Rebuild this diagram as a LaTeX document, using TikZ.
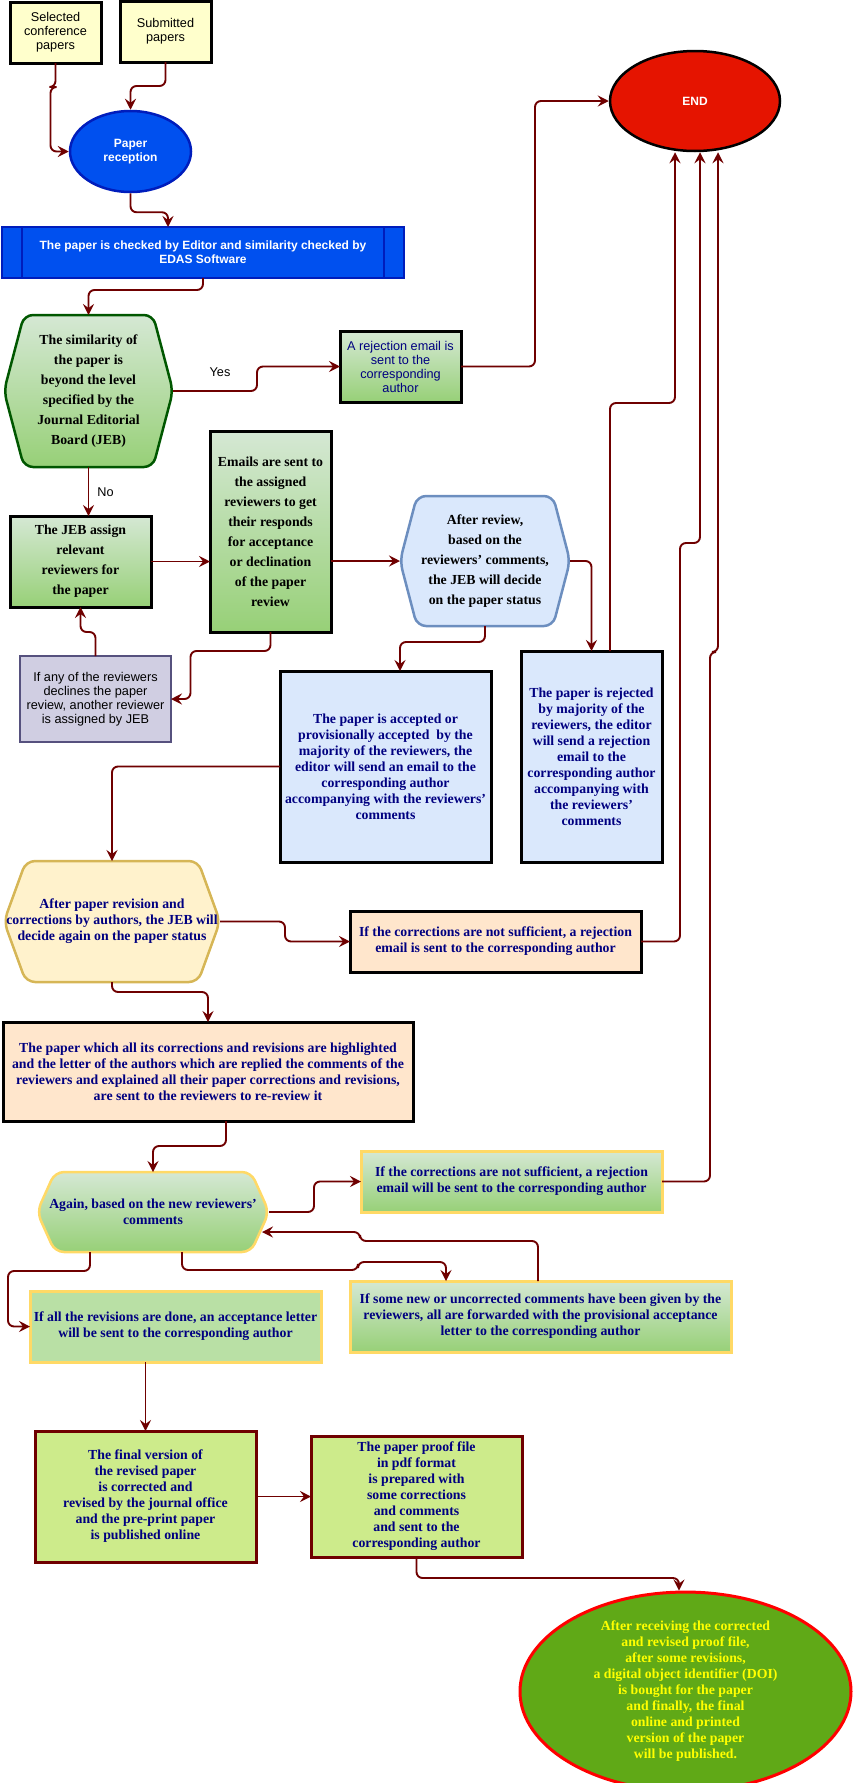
\documentclass[tikz,border=0pt]{standalone}
\usepackage{fontspec}
\setmainfont{Liberation Serif}
\setsansfont{Liberation Sans}
\usetikzlibrary{arrows.meta,shapes.geometric,backgrounds,calc}
\definecolor{edgeC}{HTML}{6F0000}
\definecolor{paleY}{HTML}{FFFFCC}
\definecolor{blueF}{HTML}{0050EF}
\definecolor{blueD}{HTML}{001DBC}
\definecolor{grTop}{HTML}{D5E8D4}
\definecolor{grBot}{HTML}{97D077}
\definecolor{dkGreen}{HTML}{005700}
\definecolor{endRed}{HTML}{E51400}
\definecolor{ltBlue}{HTML}{DAE8FC}
\definecolor{ltBlueD}{HTML}{6C8EBF}
\definecolor{purF}{HTML}{D0CEE2}
\definecolor{purD}{HTML}{56517E}
\definecolor{ltYel}{HTML}{FFF2CC}
\definecolor{ltYelD}{HTML}{D6B656}
\definecolor{peach}{HTML}{FFE6CC}
\definecolor{gold}{HTML}{FFD966}
\definecolor{accF}{HTML}{B9E0A5}
\definecolor{lime}{HTML}{CDEB8B}
\definecolor{pubG}{HTML}{60A917}
\definecolor{navyT}{HTML}{000080}
\definecolor{yelT}{HTML}{FFFF00}
\newcommand\hexshape[3]{\path[#3] (#1.north) -- ($(#1.north east)+(-#2,0)$) -- (#1.east) -- ($(#1.south east)+(-#2,0)$) -- ($(#1.south west)+(#2,0)$) -- (#1.west) -- ($(#1.north west)+(#2,0)$) -- cycle;}
\begin{document}
\begin{tikzpicture}[x=1pt,y=-1pt,
  box/.style={rectangle, align=center, inner sep=0pt, outer sep=0pt},
  ser/.style={font=\fontsize{13.8}{16}\selectfont\bfseries},
  ser20/.style={font=\fontsize{13.8}{20}\selectfont\bfseries},
  sans/.style={font=\sffamily\fontsize{12.7}{14}\selectfont},
  sansb/.style={font=\sffamily\bfseries\fontsize{12}{14}\selectfont},
  grg/.style={top color=grTop, bottom color=grBot},
  blk/.style={draw=black, line width=3pt},
  hexst/.style={rounded corners=9pt, line width=2.5pt},
  edge/.style={draw=edgeC, line width=1.9pt, rounded corners=6pt, -{Stealth[length=11pt,width=11pt,inset=4pt]}},
  lbl/.style={font=\sffamily\fontsize{12.7}{14}\selectfont, inner sep=0pt}]
\useasboundingbox (0,0) rectangle (852,1783);
% nodes
\node[box, sans, blk, fill=paleY, minimum width=91, minimum height=61] (sel) at (55.5,32.5) {Selected\\conference\\papers};
\node[box, sans, blk, fill=paleY, minimum width=91, minimum height=61] (sub) at (165.5,31.5) {Submitted\\papers};
\node[ellipse, align=center, inner sep=0pt, sansb, text=white, fill=blueF, draw=blueD, line width=2.5pt, minimum width=121, minimum height=81] (rec) at (130.5,151.5) {Paper\\reception};
\node[box, sansb, text=white, fill=blueF, draw=blueD, line width=2.5pt, minimum width=402, minimum height=51] (chk) at (203,252.5) {The paper is checked by Editor and similarity checked by\\EDAS Software};
\draw[blueD, line width=2.5pt] ([xshift=20]chk.north west) -- ([xshift=20]chk.south west) ([xshift=-20]chk.north east) -- ([xshift=-20]chk.south east);
\node[box, ser20, minimum width=169, minimum height=152] (sim) at (88.5,391) {The similarity of\\the paper is\\beyond the level\\specified by the\\Journal Editorial\\Board (JEB)};
\node[box, sans, text=navyT, blk, grg, minimum width=121, minimum height=71] (rej1) at (400.5,366.5) {A rejection email is\\sent to the\\corresponding\\author};
\node[ellipse, align=center, inner sep=0pt, sansb, text=white, fill=endRed, draw=black, line width=2.5pt, minimum width=170, minimum height=100] (end) at (695,101) {END};
\node[box, ser20, blk, grg, minimum width=141, minimum height=91] (jeb) at (80.5,561.5) {The JEB assign\\relevant\\reviewers for\\the paper};
\node[box, ser20, blk, grg, minimum width=121, minimum height=201] (ems) at (270.5,531.5) {Emails are sent to\\the assigned\\reviewers to get\\their responds\\for acceptance\\or declination\\of the paper\\review};
\node[box, ser20, minimum width=170, minimum height=130] (arv) at (485,561) {After review,\\based on the\\reviewers’ comments,\\the JEB will decide\\on the paper status};
\node[box, ser, text=navyT, blk, fill=ltBlue, minimum width=141, minimum height=211] (rjc) at (591.5,756.5) {The paper is rejected\\by majority of the\\reviewers, the editor\\will send a rejection\\email to the\\corresponding author\\accompanying with\\the reviewers’\\comments};
\node[box, ser, text=navyT, blk, fill=ltBlue, minimum width=211, minimum height=191] (acc) at (385.5,766.5) {The paper is accepted or\\provisionally accepted\ \ by the\\majority of the reviewers, the\\editor will send an email to the\\corresponding author\\accompanying with the reviewers’\\comments};
\node[box, sans, fill=purF, draw=purD, line width=2.5pt, minimum width=151, minimum height=86] (dec) at (95.5,699) {If any of the reviewers\\declines the paper\\review, another reviewer\\is assigned by JEB};
\node[box, ser, text=navyT, minimum width=216, minimum height=121] (apr) at (112,921.5) {After paper revision and\\corrections by authors, the JEB will\\decide again on the paper status};
\node[box, ser, text=navyT, blk, fill=peach, minimum width=291, minimum height=61] (rj2) at (495.5,941.5) {If the corrections are not sufficient, a rejection\\email is sent to the corresponding author};
\node[box, ser, text=navyT, blk, fill=peach, minimum width=410, minimum height=99] (big) at (208,1071.5) {The paper which all its corrections and revisions are highlighted\\and the letter of the authors which are replied the comments of the\\reviewers and explained all their paper corrections and revisions,\\are sent to the reviewers to re-review it};
\node[box, ser, text=navyT, minimum width=232, minimum height=80] (agn) at (153,1212) {Again, based on the new reviewers’\\comments};
\node[box, ser, text=navyT, grg, draw=gold, line width=3pt, minimum width=301, minimum height=61] (rj3) at (511.5,1181.5) {If the corrections are not sufficient, a rejection\\email will be sent to the corresponding author};
\node[box, ser, text=navyT, fill=accF, draw=gold, line width=3pt, minimum width=291, minimum height=71] (acp) at (175.5,1326.5) {If all the revisions are done, an acceptance letter\\will be sent to the corresponding author};
\node[box, ser, text=navyT, grg, draw=gold, line width=3pt, minimum width=381, minimum height=71] (prv) at (540.5,1316.5) {If some new or uncorrected comments have been given by the\\reviewers, all are forwarded with the provisional acceptance\\letter to the corresponding author};
\node[box, ser, text=navyT, fill=lime, draw=edgeC, line width=3pt, minimum width=221, minimum height=131] (fin) at (145.5,1496.5) {The final version of\\the revised paper\\is corrected and\\revised by the journal office\\and the pre-print paper\\is published online};
\node[box, ser, text=navyT, fill=lime, draw=edgeC, line width=3pt, minimum width=211, minimum height=121] (prf) at (416.5,1496.5) {The paper proof file\\in pdf format\\is prepared with\\some corrections\\and comments\\and sent to the\\corresponding author};
\node[ellipse, align=center, inner sep=0pt, ser, text=yelT, fill=pubG, draw=red, line width=3pt, minimum width=331, minimum height=181] (pub) at (685.5,1691.5) {After receiving the corrected\\and revised proof file,\\after some revisions,\\a digital object identifier (DOI)\\is bought for the paper\\and finally, the final\\online and printed\\version of the paper\\will be published.};
% hexagons
\begin{pgfonlayer}{background}
\hexshape{sim}{20}{hexst, grg, draw=dkGreen}
\hexshape{arv}{17}{hexst, fill=ltBlue, draw=ltBlueD}
\hexshape{apr}{22}{hexst, fill=ltYel, draw=ltYelD}
\hexshape{agn}{18}{hexst, grg, draw=gold}
\end{pgfonlayer}
% labels
\node[lbl] (lblYes) at (220,372) {Yes};
\node[lbl] (lblNo) at (105.5,492) {No};
% edges
\draw[edge] (sel.south) -- ++(0,24) -- ++(-5,0) |- (rec.west);
\draw[edge] (sub.south) -- ++(0,24) -| (rec.north);
\draw[edge] (rec.south) -- ++(0,19) -| ([xshift=-35]chk.north);
\draw[edge] (chk.south) -- ++(0,12) -| (sim.north);
\draw[edge] (sim.east) -- ++(84,0) |- (rej1.west);
\draw[edge] (rej1.east) -- ++(74,0) |- (end.west);
\draw[edge] (sim.south) -- (sim.south |- jeb.north);
\draw[edge] (jeb.east) -- (jeb.east -| ems.west);
\draw[edge] (arv.west -| ems.east) -- (arv.west);
\draw[edge] (arv.east) -| (rjc.north);
\draw[edge] ([xshift=18.5]rjc.north) -- ++(0,-248) -| ([xshift=-20]end.south);
\draw[edge] (arv.south) -- ++(0,16) -| ([xshift=14.5]acc.north);
\draw[edge] (ems.south) -- ++(0,19) -- ++(-80,0) |- (dec.east);
\draw[edge] (dec.north) -- ++(0,-24) -| (jeb.south);
\draw[edge] (acc.west) -| (apr.north);
\draw[edge] (apr.east) -- ++(65,0) |- (rj2.west);
\draw[edge] (rj2.east) -| ([shift={(39,-398.5)}]rj2.east) -| ([xshift=5]end.south);
\draw[edge] (rj3.east) -| ([shift={(48,-529.5)}]rj3.east) -| ([xshift=23]end.south);
\draw[edge] (apr.south) -- ++(0,10) -| (big.north);
\draw[edge] ([xshift=18]big.south) -- ++(0,25) -| (agn.north);
\draw[edge] (agn.east) -- ++(45,0) |- (rj3.west);
\draw[edge] ([xshift=-63]agn.south) -- ++(0,19) -| ([xshift=-22]acp.west) -- (acp.west);
\draw[edge] ([xshift=29]agn.south) -- ++(0,18) -- ++(176,0) -- ++(0,-8) -| ([xshift=-94.5]prv.north);
\draw[edge] ([xshift=-2.5]prv.north) -- ++(0,-40) -- ++(-178,0) -- ++(0,-9) -- ([shift={(-7,20)}]agn.east);
\draw[edge] (fin.north |- acp.south) -- (fin.north);
\draw[edge] (fin.east) -- (prf.west);
\draw[edge] (prf.south) -- ++(0,21) -| ([xshift=-6.5]pub.north);
\end{tikzpicture}
\end{document}
